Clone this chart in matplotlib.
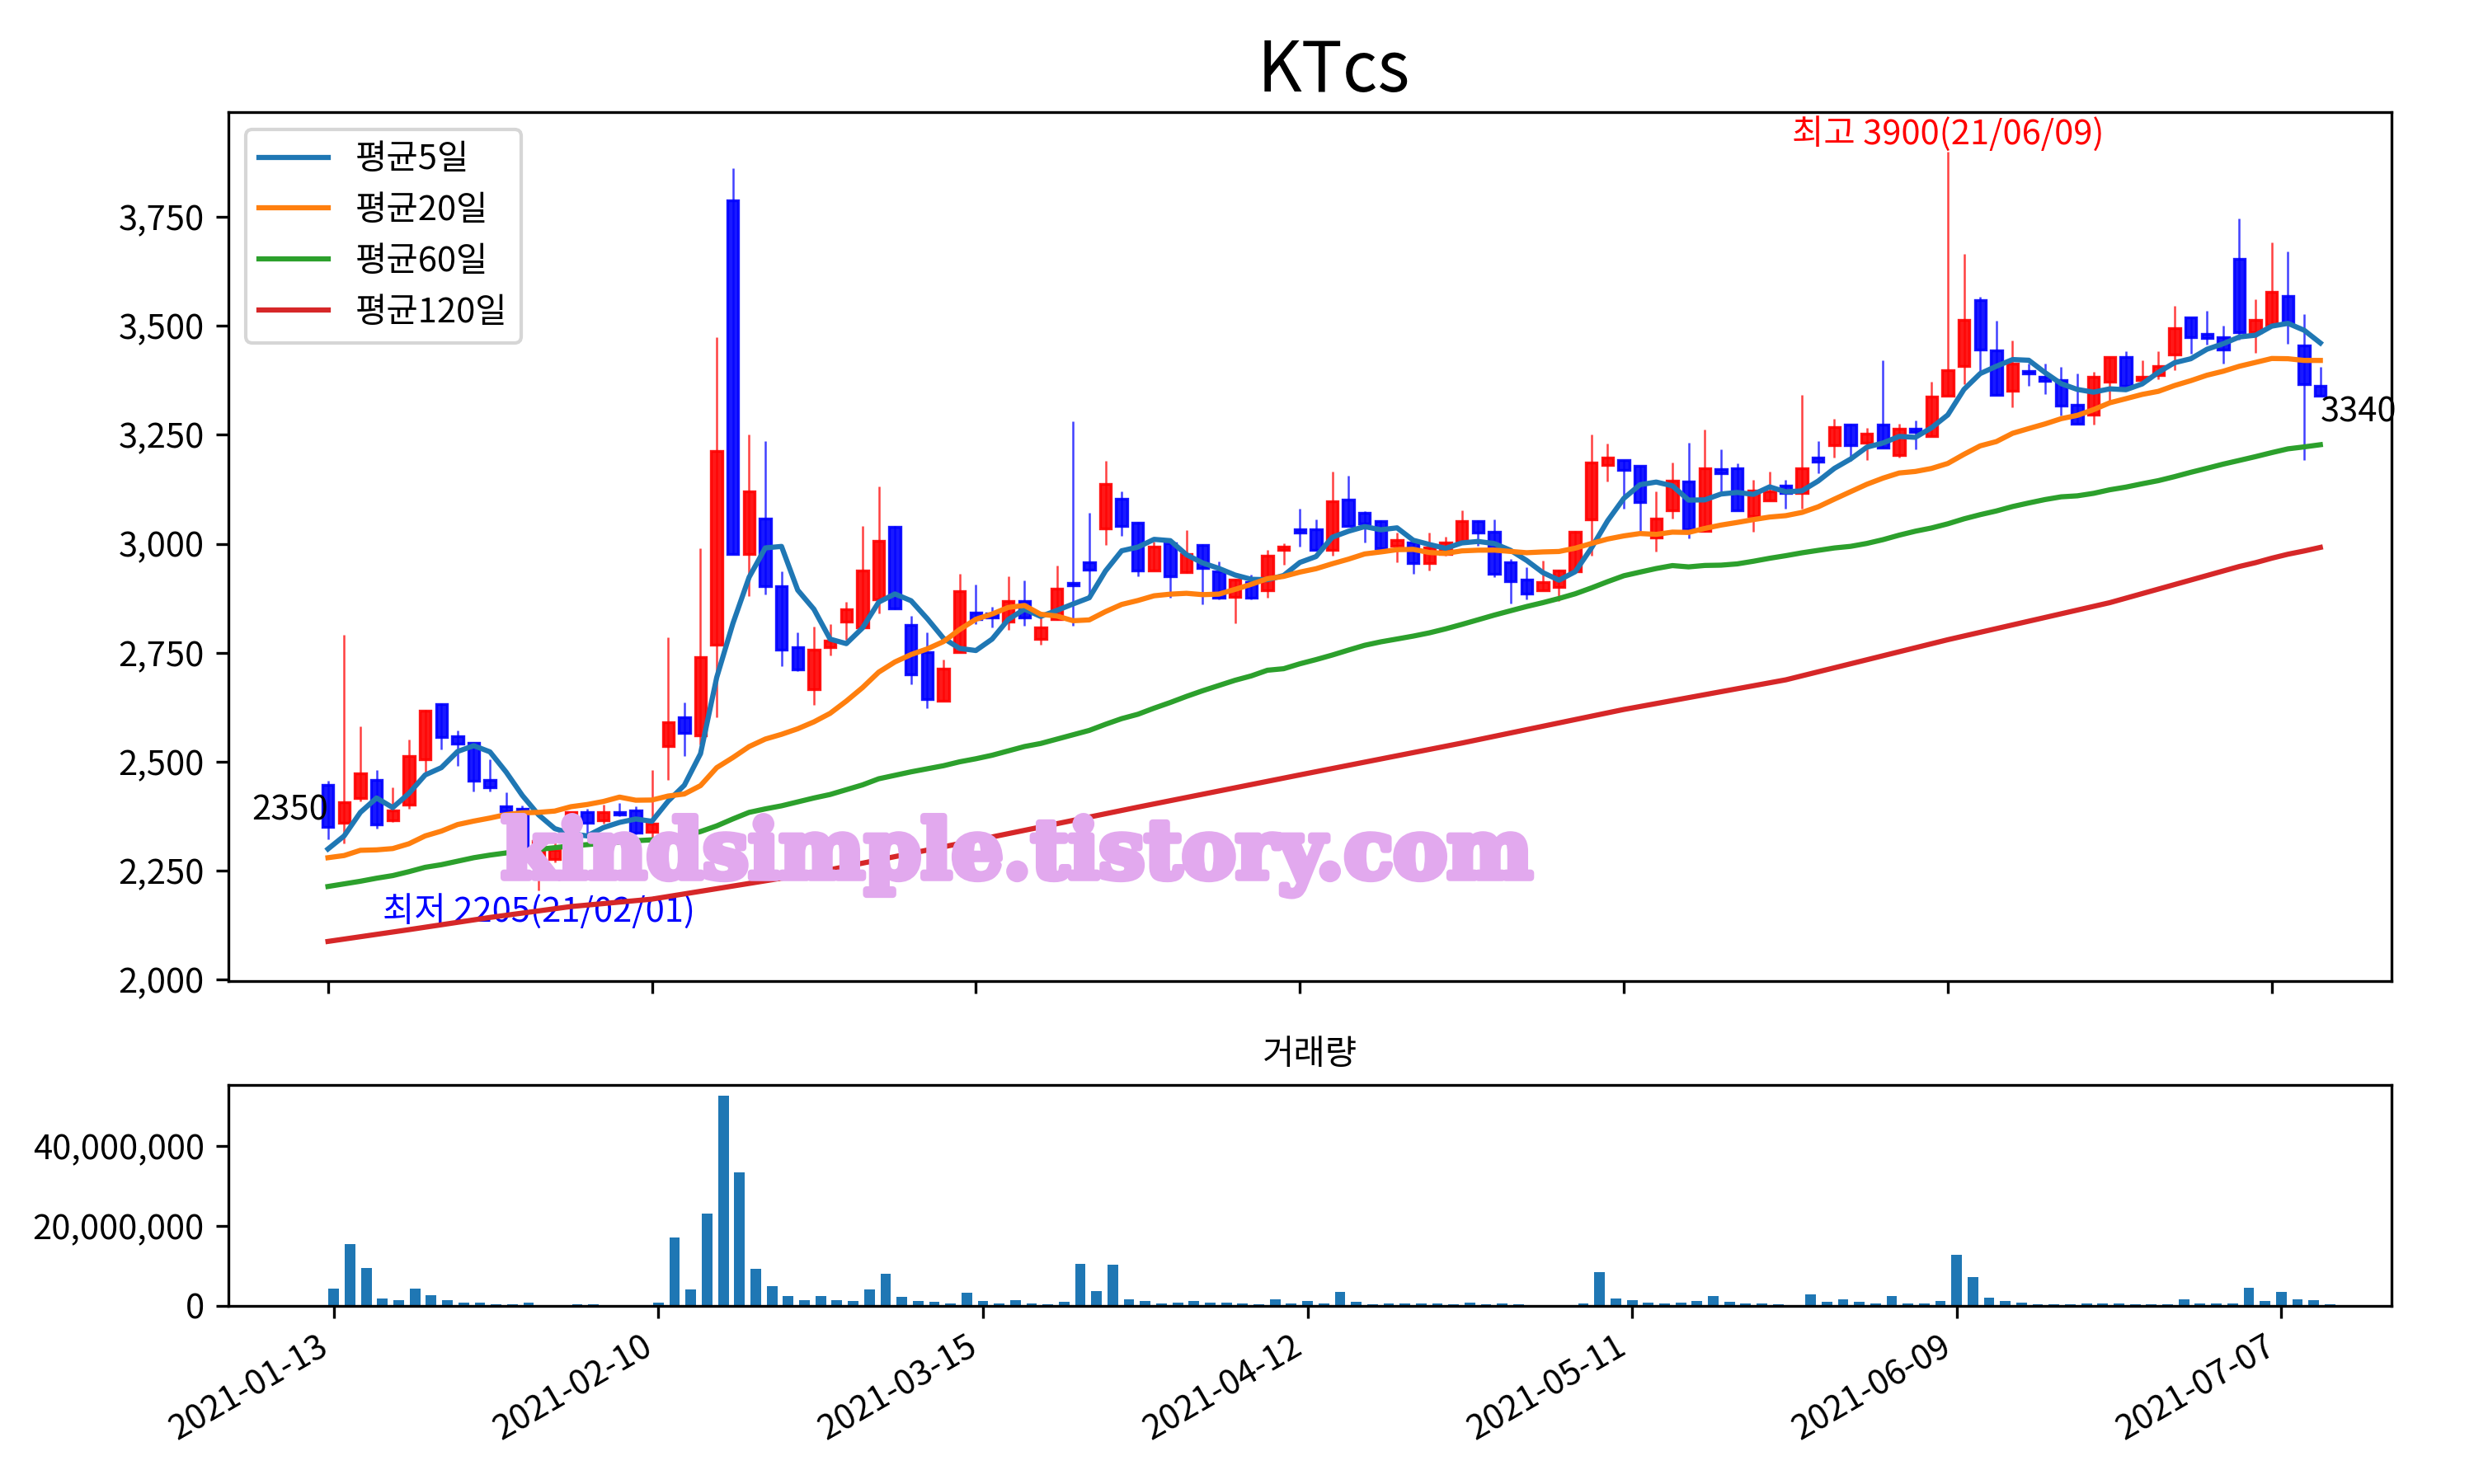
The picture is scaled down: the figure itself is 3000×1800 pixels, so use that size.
import numpy as np
import pandas as pd
import matplotlib
matplotlib.use('Agg')
import matplotlib.pyplot as plt
from matplotlib.patches import Rectangle
from matplotlib.ticker import FuncFormatter, MultipleLocator
import matplotlib.patheffects as pe

plt.rcParams['font.family'] = ['Noto Sans CJK KR', 'DejaVu Sans']
plt.rcParams['axes.unicode_minus'] = False

TITLE = 'KTcs'
WATERMARK = 'kindsimple.tistory.com'

# tick labels, one every 20 sessions (session 0 = 2021-01-13)
tick_dates = ['2021-01-13', '2021-02-10', '2021-03-15', '2021-04-12',
              '2021-05-11', '2021-06-09', '2021-07-07']
high_date = '21/06/09'
low_date = '21/02/01'

# daily OHLC, 124 sessions
opens = [2447, 2360, 2417, 2458, 2365, 2402, 2506, 2633, 2559, 2543,
         2458, 2398, 2392, 2270, 2276, 2330, 2384, 2366, 2384, 2389,
         2339, 2536, 2602, 2561, 2769, 3787, 2977, 3057, 2902, 2763,
         2667, 2763, 2822, 2808, 2872, 3038, 2813, 2752, 2639, 2752,
         2842, 2841, 2822, 2869, 2781, 2827, 2910, 2957, 3035, 3104,
         3048, 2939, 3002, 2935, 2997, 2937, 2879, 2913, 2893, 2986,
         3033, 3033, 2986, 3102, 3072, 3052, 2995, 3003, 2956, 2976,
         3005, 3053, 3028, 2957, 2918, 2894, 2901, 2937, 3056, 3180,
         3192, 3179, 3015, 3076, 3143, 3030, 3172, 3173, 3064, 3100,
         3133, 3116, 3198, 3227, 3274, 3231, 3274, 3204, 3264, 3247,
         3340, 3407, 3559, 3444, 3351, 3397, 3383, 3375, 3319, 3297,
         3371, 3429, 3375, 3387, 3434, 3520, 3482, 3474, 3653, 3486,
         3502, 3568, 3454, 3363]
highs = [2456, 2792, 2581, 2482, 2442, 2551, 2620, 2635, 2572, 2545,
         2506, 2430, 2400, 2325, 2321, 2384, 2393, 2402, 2406, 2397,
         2482, 2785, 2636, 2990, 3473, 3861, 3251, 3235, 2937, 2796,
         2810, 2815, 2866, 3040, 3131, 3040, 2835, 2796, 2735, 2932,
         2907, 2856, 2925, 2916, 2842, 2951, 3281, 3072, 3190, 3120,
         3050, 3005, 3004, 3031, 2999, 2960, 2920, 2930, 2986, 3001,
         3080, 3056, 3165, 3156, 3074, 3054, 3025, 3005, 3025, 3016,
         3077, 3055, 3056, 2966, 2947, 2962, 2940, 3030, 3250, 3230,
         3192, 3179, 3120, 3186, 3231, 3262, 3217, 3185, 3146, 3165,
         3146, 3342, 3236, 3286, 3276, 3266, 3420, 3275, 3282, 3372,
         3900, 3665, 3567, 3512, 3466, 3414, 3414, 3405, 3391, 3395,
         3429, 3441, 3420, 3441, 3546, 3520, 3535, 3500, 3746, 3560,
         3691, 3671, 3526, 3405]
lows = [2322, 2313, 2410, 2346, 2362, 2392, 2472, 2528, 2491, 2431,
        2431, 2362, 2240, 2205, 2270, 2320, 2327, 2359, 2375, 2334,
        2293, 2458, 2514, 2540, 2602, 2977, 2880, 2883, 2719, 2708,
        2630, 2743, 2780, 2808, 2841, 2850, 2678, 2622, 2639, 2752,
        2816, 2808, 2802, 2812, 2769, 2825, 2812, 2886, 2997, 3018,
        2926, 2939, 2877, 2933, 2862, 2872, 2817, 2873, 2877, 2952,
        2993, 2986, 2973, 3041, 3003, 2990, 2957, 2932, 2938, 2973,
        3005, 2996, 2923, 2863, 2872, 2894, 2868, 2937, 2973, 3143,
        3081, 3030, 2983, 3057, 3012, 3028, 3121, 3076, 3027, 3100,
        3081, 3081, 3162, 3198, 3190, 3192, 3221, 3198, 3217, 3247,
        3340, 3367, 3387, 3341, 3313, 3363, 3343, 3294, 3275, 3273,
        3327, 3363, 3375, 3377, 3399, 3436, 3456, 3413, 3469, 3437,
        3502, 3458, 3192, 3340]
closes = [2350, 2407, 2473, 2356, 2389, 2513, 2618, 2557, 2541, 2456,
          2442, 2386, 2289, 2319, 2298, 2384, 2360, 2384, 2379, 2337,
          2358, 2591, 2566, 2741, 3212, 2977, 3121, 2902, 2758, 2711,
          2758, 2778, 2850, 2938, 3007, 2852, 2700, 2644, 2713, 2891,
          2828, 2831, 2869, 2831, 2808, 2897, 2905, 2940, 3138, 3040,
          2939, 2994, 2925, 2977, 2945, 2877, 2918, 2876, 2972, 2994,
          3026, 2986, 3097, 3041, 3047, 2990, 3008, 2955, 2992, 3003,
          3052, 3025, 2931, 2915, 2886, 2913, 2938, 3028, 3187, 3198,
          3170, 3095, 3058, 3144, 3034, 3173, 3162, 3076, 3122, 3120,
          3116, 3173, 3189, 3267, 3227, 3252, 3221, 3264, 3257, 3337,
          3399, 3514, 3445, 3341, 3414, 3391, 3373, 3317, 3275, 3383,
          3429, 3363, 3383, 3408, 3494, 3474, 3472, 3446, 3486, 3514,
          3578, 3504, 3367, 3340]

# volume in millions of shares
volume_m = [4.23, 15.5, 9.56, 1.77, 1.37, 4.23, 2.59, 1.37, 0.75, 0.75,
            0.34, 0.34, 0.75, 0, 0, 0.34, 0.34, 0, 0, 0,
            0.75, 17.1, 4.03, 23.1, 52.6, 33.3, 9.35, 4.85, 2.39, 1.37,
            2.39, 1.37, 1.16, 4.03, 8.12, 2.18, 1.16, 0.96, 0.55, 3.21,
            1.16, 0.55, 1.37, 0.55, 0.34, 0.96, 10.6, 3.62, 10.4, 1.57,
            1.16, 0.55, 0.75, 1.16, 0.75, 0.75, 0.55, 0.34, 1.57, 0.55,
            1.16, 0.55, 3.41, 0.96, 0.34, 0.55, 0.55, 0.55, 0.55, 0.34,
            0.75, 0.34, 0.55, 0.34, 0, 0, 0, 0.55, 8.53, 1.77,
            1.37, 0.75, 0.55, 0.75, 1.16, 2.39, 0.96, 0.55, 0.55, 0.34,
            0, 2.80, 0.96, 1.57, 0.96, 0.55, 2.39, 0.55, 0.55, 1.16,
            12.8, 7.30, 1.98, 1.16, 0.75, 0.34, 0.34, 0.34, 0.55, 0.55,
            0.55, 0.34, 0.34, 0.34, 1.57, 0.55, 0.55, 0.55, 4.44, 1.16,
            3.41, 1.57, 1.37, 0.34]

# moving-average values read off the chart where the window reaches
# back before 2021-01-13 (not computable from the closes above)
ma5_head = [2300, 2330, 2384, 2417]
ma20_head = [2280, 2285, 2297, 2298, 2301, 2312, 2330, 2341, 2356, 2364,
             2371, 2379, 2383, 2384, 2387, 2397, 2402, 2409, 2419]
ma60_head = [2214, 2220, 2226, 2233, 2239, 2248, 2258, 2264, 2272, 2280,
             2286, 2291, 2295, 2299, 2303, 2307, 2310, 2313, 2316, 2319,
             2321, 2326, 2331, 2340, 2353, 2369, 2384, 2392, 2399, 2408,
             2417, 2425, 2436, 2447, 2461, 2469, 2477, 2484, 2491, 2500,
             2507, 2515, 2525, 2535, 2542, 2552, 2562, 2572, 2586, 2599,
             2609, 2623, 2636, 2650, 2663, 2675, 2687, 2697, 2710]
ma120_head_idx = [0, 5, 10, 15, 20, 30, 40, 50, 60, 70, 80, 90, 100, 110, 118]
ma120_head_val = [2088, 2115, 2143, 2168, 2185, 2245, 2320, 2396, 2470, 2543,
                  2620, 2688, 2780, 2865, 2948]

n = len(closes)
x = np.arange(n)
close_s = pd.Series(closes, dtype=float)


def moving_average(window, head):
    ma = close_s.rolling(window).mean()
    ma.iloc[:len(head)] = head
    return ma


ma5 = moving_average(5, ma5_head)
ma20 = moving_average(20, ma20_head)
ma60 = moving_average(60, ma60_head)
ma120_tail = close_s.rolling(120).mean().iloc[119:]
ma120_x = list(ma120_head_idx) + list(range(119, n))
ma120_y = list(ma120_head_val) + list(ma120_tail)

fig = plt.figure(figsize=(10, 6), dpi=300)
ax = fig.add_axes([0.0923, 0.339, 0.8744, 0.5856])
ax_v = fig.add_axes([0.0923, 0.120, 0.8744, 0.1489])

# candles
w = 0.68
for i in range(n):
    o, h, l, c = opens[i], highs[i], lows[i], closes[i]
    col = 'red' if c >= o else 'blue'
    ax.vlines(i, l, h, color=col, alpha=0.75, linewidth=0.6, zorder=1)
    ax.add_patch(Rectangle((i - w / 2, min(o, c)), w, abs(c - o),
                           facecolor=col, edgecolor=col, alpha=0.9,
                           linewidth=0.8, zorder=2))

ax.plot(x, ma5, label='평균5일', zorder=4)
ax.plot(x, ma20, label='평균20일', zorder=4)
ax.plot(x, ma60, label='평균60일', zorder=4)
ax.plot(ma120_x, ma120_y, label='평균120일', zorder=4)
ax.autoscale_view()

hi = int(np.argmax(highs))
lo = int(np.argmin(lows))
ax.text(hi, highs[hi], f'최고 {highs[hi]}({high_date})', color='red',
        ha='center', va='bottom', fontsize=10)
ax.text(lo, lows[lo] - 8, f'최저 {lows[lo]}({low_date})', color='blue',
        ha='center', va='top', fontsize=10)
ax.text(0, closes[0], str(closes[0]), ha='right', va='bottom', fontsize=10)
ax.text(n - 1, closes[-1], str(closes[-1]), ha='left', va='top', fontsize=10)

ax.legend(loc='upper left', fontsize=10)
ax.set_title(TITLE, fontsize=20, x=0.511)
ax.yaxis.set_major_locator(MultipleLocator(250))
ax.yaxis.set_major_formatter(FuncFormatter(lambda v, p: f'{v:,.0f}'))
ticks = list(range(0, n, 20))
ax.set_xticks(ticks)
ax.tick_params(labelbottom=False)
ax.set_xlim(-6.15, 127.4)

# volume
ax_v.bar(x, np.array(volume_m) * 1e6, width=0.65, color='#1f77b4')
ax_v.set_title('거래량', fontsize=10)
ax_v.set_xticks(ticks)
ax_v.set_xticklabels(tick_dates, rotation=30, ha='right')
ax_v.set_yticks([0, 20e6, 40e6])
ax_v.yaxis.set_major_formatter(FuncFormatter(lambda v, p: f'{v:,.0f}'))
ax_v.set_xlim(-6.5, 126.8)

# watermark
fig.text(0.411, 0.423, WATERMARK, fontsize=23.5, fontweight='bold',
         family='DejaVu Serif', color='#E2A9EE', ha='center', va='center',
         zorder=3,
         path_effects=[pe.withStroke(linewidth=2, foreground='#E2A9EE')])

fig.savefig('out.png', dpi=300)
